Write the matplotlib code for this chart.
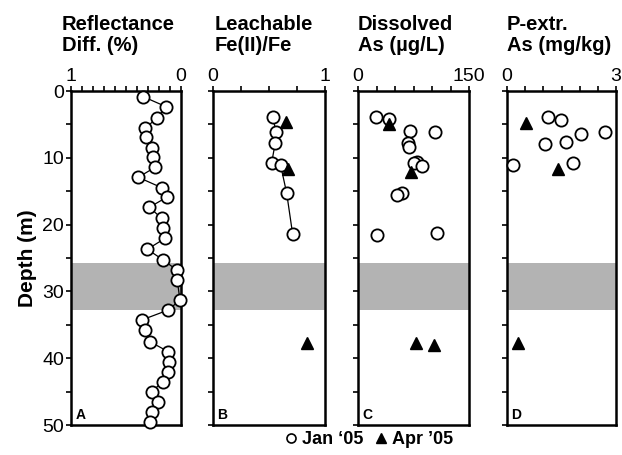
import matplotlib
matplotlib.use("Agg")
import matplotlib.pyplot as plt
from matplotlib.lines import Line2D
from matplotlib.ticker import FixedLocator

plt.rcParams['font.family'] = ['Liberation Sans', 'DejaVu Sans']

# Panel A: reflectance difference (%)
refl_depth = [0.85, 2.35, 4.09, 5.58, 6.93, 8.58, 9.93, 11.42, 12.92, 14.48, 15.91, 17.41,
              19.06, 20.55, 22.05, 23.70, 25.30, 26.80, 28.29, 31.3, 32.78, 34.28, 35.78,
              37.53, 39.03, 40.52, 42.02, 43.52, 45.01, 46.51, 48.01, 49.6]
refl_val = [0.343, 0.136, 0.221, 0.327, 0.318, 0.266, 0.257, 0.236, 0.388, 0.175, 0.130, 0.288,
            0.175, 0.161, 0.145, 0.306, 0.161, 0.039, 0.034, 0.010, 0.115, 0.357, 0.327,
            0.282, 0.115, 0.106, 0.115, 0.166, 0.266, 0.206, 0.266, 0.282]

# Panel B: leachable Fe(II)/Fe
fe_jan_depth = [3.94, 6.09, 7.74, 10.73, 11.13, 15.31, 21.41]
fe_jan_val = [0.533, 0.563, 0.556, 0.524, 0.604, 0.658, 0.711]
fe_apr_depth = [4.59, 11.72, 37.77]
fe_apr_val = [0.652, 0.673, 0.842]

# Panel C: dissolved As (ug/L)
as_jan_depth = [3.94, 4.24, 5.99, 6.09, 7.74, 8.43, 10.58, 10.83, 11.23, 15.22, 15.57, 21.56, 21.31]
as_jan_val = [24.3, 42.3, 70.3, 104.1, 68.0, 68.9, 80.1, 75.7, 86.1, 59.0, 52.3, 26.1, 106.4]
as_apr_depth = [4.94, 12.08, 37.68, 38.02]
as_apr_val = [42.3, 71.2, 78.4, 102.7]

# Panel D: P-extractable As (mg/kg)
pas_jan_depth = [3.94, 4.34, 6.44, 6.09, 7.93, 7.58, 10.83, 11.08]
pas_jan_val = [1.137, 1.477, 2.028, 2.697, 1.046, 1.624, 1.826, 0.156]
pas_apr_depth = [4.74, 11.72, 37.77]
pas_apr_val = [0.523, 1.413, 0.312]

band = (25.7, 32.8)
titles = ["Reflectance\nDiff. (%)", "Leachable\nFe(II)/Fe", "Dissolved\nAs (\u00b5g/L)", "P-extr.\nAs (mg/kg)"]
letters = ["A", "B", "C", "D"]
xlims = [(1, 0), (0, 1), (0, 150), (0, 3)]
xmajor = [[1, 0], [0, 1], [0, 150], [0, 3]]
xminor = [[0.1 * i for i in range(1, 10)], [0.25, 0.5, 0.75], [25, 50, 75, 100, 125], [0.5, 1, 1.5, 2, 2.5]]

W, H = 622, 455
fig = plt.figure(figsize=(W / 100, H / 100), dpi=100)
lefts = [71, 213, 358, 507]
widths = [110, 112, 111, 109]
title_x = [62, 215, 358, 507]
bottom = (H - 425) / H
height = 334 / H

ms = 8.8
mew = 1.3
axes = []
for i in range(4):
    ax = fig.add_axes([lefts[i] / W, bottom, widths[i] / W, height])
    axes.append(ax)
    ax.set_ylim(50, 0)
    ax.set_xlim(*xlims[i])
    ax.axhspan(band[0], band[1], color='#b3b3b3', lw=0, zorder=0)
    ax.xaxis.tick_top()
    ax.xaxis.set_major_locator(FixedLocator(xmajor[i]))
    ax.xaxis.set_minor_locator(FixedLocator(xminor[i]))
    ax.set_xticklabels([str(v) for v in xmajor[i]])
    ax.yaxis.set_major_locator(FixedLocator(list(range(0, 51, 10))))
    ax.yaxis.set_minor_locator(FixedLocator(list(range(5, 50, 10))))
    ax.tick_params(which='both', direction='out', length=3.5, width=1.2, labelsize=14, pad=1.5)
    ax.tick_params(axis='x', which='both', top=True, bottom=False, pad=0.5)
    if i > 0:
        ax.set_yticklabels([])
    for s in ax.spines.values():
        s.set_linewidth(1.8)
    ax.text(0.04, 0.01, letters[i], transform=ax.transAxes, fontsize=10, fontweight='bold',
            ha='left', va='bottom')
    fig.text(title_x[i] / W, 1 - 15 / H, titles[i], fontsize=14.5, fontweight='bold',
             ha='left', va='top', linespacing=1.15)

axes[0].set_yticklabels([str(v) for v in range(0, 51, 10)])
axes[0].set_ylabel("Depth (m)", fontsize=15, fontweight='bold', labelpad=4)

circ = dict(marker='o', ms=ms, mfc='white', mec='black', mew=mew, ls='none', zorder=3)
tri = dict(marker='^', ms=ms, mfc='black', mec='black', ls='none', zorder=4)

axes[0].plot(refl_val, refl_depth, color='black', lw=0.9, zorder=2)
axes[0].plot(refl_val, refl_depth, **circ)

axes[1].plot(fe_jan_val, fe_jan_depth, color='black', lw=0.9, zorder=2)
axes[1].plot(fe_jan_val, fe_jan_depth, **circ)
axes[1].plot(fe_apr_val, fe_apr_depth, **tri)

axes[2].plot(as_jan_val, as_jan_depth, **circ)
axes[2].plot(as_apr_val, as_apr_depth, **tri)

axes[3].plot(pas_jan_val, pas_jan_depth, **circ)
axes[3].plot(pas_apr_val, pas_apr_depth, **tri)

for ax in axes:
    for ln in ax.lines:
        ln.set_clip_on(False)

handles = [Line2D([], [], marker='o', ms=6.5, mfc='white', mec='black', mew=1.2, ls='none'),
           Line2D([], [], marker='^', ms=6.5, mfc='black', mec='black', ls='none')]
fig.legend(handles, ["Jan \u201805", "Apr \u201905"], loc='center', bbox_to_anchor=(368 / W, 1 - 440 / H),
           ncol=2, frameon=False, prop={'size': 13, 'weight': 'bold'}, handletextpad=0.15,
           columnspacing=0.5, handlelength=0.9, borderpad=0)

fig.savefig("out.png", dpi=100)
